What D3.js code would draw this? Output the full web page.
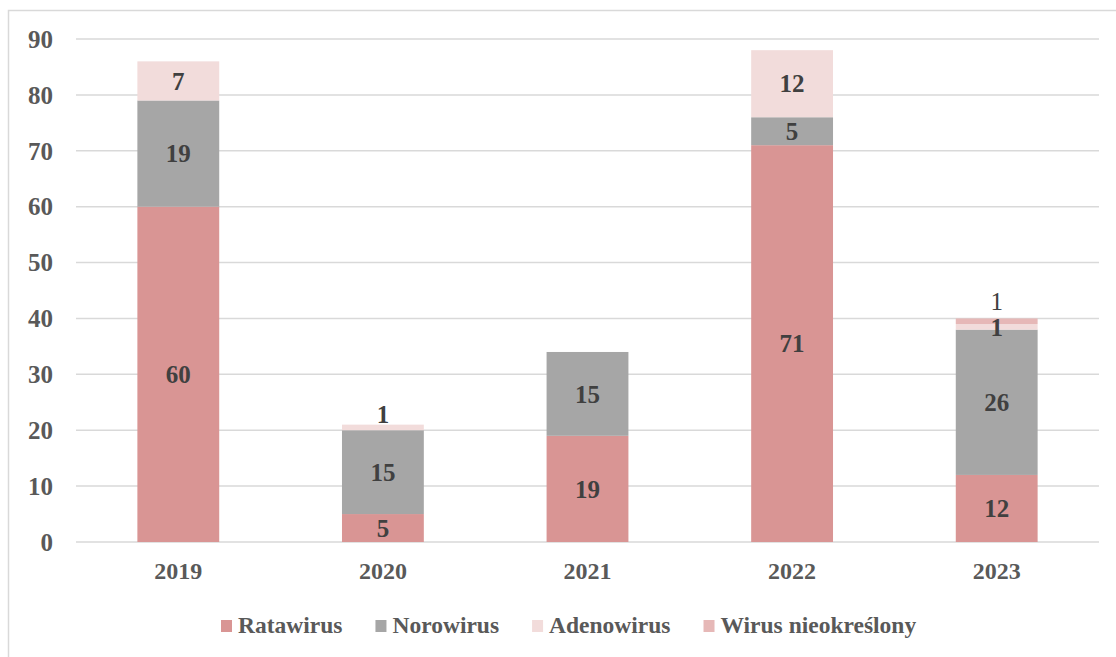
<!DOCTYPE html>
<html>
<head>
<meta charset="utf-8">
<script src="https://cdn.jsdelivr.net/npm/d3@7"></script>
<style>
  body { margin: 0; background: #fff; }
</style>
</head>
<body>
<div id="chart"></div>
<script>
const years = ["2019", "2020", "2021", "2022", "2023"];
const seriesNames = ["Ratawirus", "Norowirus", "Adenowirus", "Wirus nieokreślony"];
const ratawirus = [60, 5, 19, 71, 12];
const norowirus = [19, 15, 15, 5, 26];
const adenowirus = [7, 1, 0, 12, 1];
const wirusNieokreslony = [0, 0, 0, 0, 1];
const yTicks = [0, 10, 20, 30, 40, 50, 60, 70, 80, 90];

const colors = ["#d99594", "#a6a6a6", "#f2dcdb", "#e6b8b7"];

const W = 1116, H = 657;
const margin = { top: 39, left: 76, right: 17, bottom: 115 };
const width = W - margin.left - margin.right,
  height = H - margin.top - margin.bottom;
const FONT = "Liberation Serif, Times New Roman, serif";

const svg = d3.select("#chart")
  .append("svg")
  .attr("width", W)
  .attr("height", H)
  .attr("font-family", FONT);

// chart frame
svg.append("rect")
  .attr("x", 8.5).attr("y", 10.5)
  .attr("width", W).attr("height", H)
  .attr("fill", "none")
  .attr("stroke", "#d9d9d9")
  .attr("stroke-width", 1.5);

const g = svg.append("g")
  .attr("transform", `translate(${margin.left},${margin.top})`);

const data = years.map((y, i) => ({
  year: y,
  "Ratawirus": ratawirus[i],
  "Norowirus": norowirus[i],
  "Adenowirus": adenowirus[i],
  "Wirus nieokreślony": wirusNieokreslony[i]
}));

const x = d3.scaleBand()
  .domain(years)
  .range([0, width])
  .paddingInner(0.6)
  .paddingOuter(0.3);

const y = d3.scaleLinear()
  .domain([0, 90])
  .range([height, 0]);

const color = d3.scaleOrdinal().domain(seriesNames).range(colors);

// gridlines
g.append("g")
  .selectAll("line")
  .data(yTicks)
  .join("line")
  .attr("x1", 0).attr("x2", width)
  .attr("y1", d => y(d)).attr("y2", d => y(d))
  .attr("stroke", "#d9d9d9")
  .attr("stroke-width", 1.5);

// y labels
g.append("g")
  .selectAll("text")
  .data(yTicks)
  .join("text")
  .attr("x", -23)
  .attr("y", d => y(d))
  .attr("dy", "0.35em")
  .attr("text-anchor", "end")
  .attr("font-size", 25)
  .attr("font-weight", "bold")
  .attr("fill", "#595959")
  .text(d => d);

// x labels
g.append("g")
  .selectAll("text")
  .data(years)
  .join("text")
  .attr("x", d => x(d) + x.bandwidth() / 2)
  .attr("y", height + 37)
  .attr("text-anchor", "middle")
  .attr("font-size", 24)
  .attr("font-weight", "bold")
  .attr("fill", "#595959")
  .text(d => d);

const stacked = d3.stack().keys(seriesNames)(data);

// bars
g.append("g")
  .selectAll("g")
  .data(stacked)
  .join("g")
  .attr("fill", d => color(d.key))
  .selectAll("rect")
  .data(d => d.filter(s => s[1] - s[0] > 0))
  .join("rect")
  .attr("x", d => x(d.data.year))
  .attr("y", d => y(d[1]))
  .attr("height", d => y(d[0]) - y(d[1]))
  .attr("width", x.bandwidth());

// data labels
const labels = [];
stacked.forEach(s => {
  s.forEach(d => {
    const v = d[1] - d[0];
    if (v <= 0) return;
    let ly = y((d[0] + d[1]) / 2);
    let bold = true;
    // thin segments: label sits just above the segment
    if (s.key === "Wirus nieokreślony") { ly = y(d[1]) - 17; bold = false; }
    else if (v === 1 && d.data.year === "2020") { ly = y(d[1]) - 10; }
    labels.push({ v, x: x(d.data.year) + x.bandwidth() / 2, y: ly, bold });
  });
});

g.append("g")
  .selectAll("text")
  .data(labels)
  .join("text")
  .attr("x", d => d.x)
  .attr("y", d => d.y)
  .attr("dy", "0.35em")
  .attr("text-anchor", "middle")
  .attr("font-size", 25)
  .attr("font-weight", d => d.bold ? "bold" : "normal")
  .attr("fill", "#404040")
  .text(d => d.v);

// legend: square, label, then gap to next entry
const legend = svg.append("g").attr("transform", "translate(221,620)");
let lx = 0;
seriesNames.forEach(name => {
  const item = legend.append("g").attr("transform", `translate(${lx},0)`);
  item.append("rect")
    .attr("width", 11).attr("height", 12)
    .attr("fill", color(name));
  const t = item.append("text")
    .attr("x", 17)
    .attr("y", 13)
    .attr("font-size", 23.5)
    .attr("font-weight", "bold")
    .attr("fill", "#595959")
    .text(name);
  lx += 17 + t.node().getComputedTextLength() + 33;
});
</script>
</body>
</html>
